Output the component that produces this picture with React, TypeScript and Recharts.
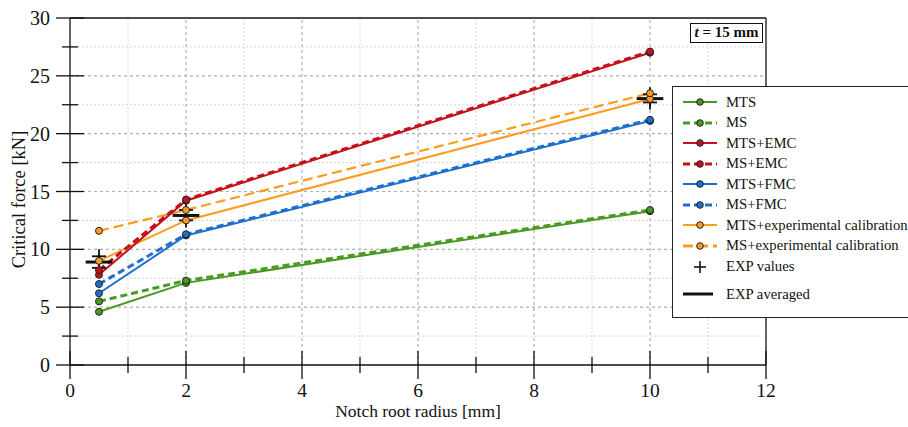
import React from 'react';
import { ComposedChart, Line, Scatter, XAxis, YAxis, ReferenceLine, Legend } from 'recharts';

const FONT = '"Liberation Serif", "Times New Roman", serif';

// notch root radii [mm]
const radii = [0.5, 2, 10];
// critical force [kN]
const mts = [4.6, 7.1, 13.3];
const ms = [5.5, 7.3, 13.4];
const mtsEmc = [7.8, 14.2, 27.0];
const msEmc = [8.2, 14.3, 27.1];
const mtsFmc = [6.2, 11.2, 21.1];
const msFmc = [7.0, 11.3, 21.2];
const mtsExp = [9.0, 12.5, 23.0];
const msExp = [11.6, 13.4, 23.5];
// experimental results
const expValues = [
  [9.4, 8.9, 8.4],
  [13.4, 12.9, 12.5],
  [23.4, 23.0, 22.7],
];
const expAveraged = [8.9, 12.93, 23.03];

const xTicks = [0, 1, 2, 3, 4, 5, 6, 7, 8, 9, 10, 11, 12];
const yTicks = [0, 2.5, 5, 7.5, 10, 12.5, 15, 17.5, 20, 22.5, 25, 27.5, 30];
const xGridMajor = [2, 4, 6, 8, 10];
const xGridMinor = [1, 3, 5, 7, 9, 11];
const yGridMajor = [5, 10, 15, 20, 25];
const yGridMinor = [2.5, 7.5, 12.5, 17.5, 22.5, 27.5];

const GREEN = '#4a9a22';
const RED = '#c4121c';
const BLUE = '#1f6fcf';
const ORANGE = '#ff9b1e';

type Series = { name: string; values: number[]; color: string; dash?: string; width: number };

const series: Series[] = [
  { name: 'MTS', values: mts, color: GREEN, width: 2 },
  { name: 'MS', values: ms, color: GREEN, dash: '7 4', width: 3 },
  { name: 'MTS+experimental calibration', values: mtsExp, color: ORANGE, width: 2 },
  { name: 'MS+experimental calibration', values: msExp, color: ORANGE, dash: '10 5', width: 2.2 },
  { name: 'MTS+FMC', values: mtsFmc, color: BLUE, width: 2 },
  { name: 'MS+FMC', values: msFmc, color: BLUE, dash: '7 4', width: 3 },
  { name: 'MTS+EMC', values: mtsEmc, color: RED, width: 2 },
  { name: 'MS+EMC', values: msEmc, color: RED, dash: '7 4', width: 3 },
];

const legendOrder = [
  'MTS', 'MS', 'MTS+EMC', 'MS+EMC', 'MTS+FMC', 'MS+FMC',
  'MTS+experimental calibration', 'MS+experimental calibration',
];

const toPoints = (vals: number[]) => radii.map((r, i) => ({ x: r, y: vals[i] }));
const expPoints = radii.flatMap((r, i) => expValues[i].map((v) => ({ x: r, y: v })));
const AVG_HALF = 0.23;

const XTick = (props: any) => {
  const { x, y, payload } = props;
  const v = payload.value;
  const major = v % 2 === 0;
  const h = major ? 14 : 8;
  return (
    <g>
      <line x1={x} x2={x} y1={y - h} y2={y + h} stroke="#111" strokeWidth={1.3} />
      {major && (
        <text x={x} y={y + 32} textAnchor="middle" fontSize={19.5} fontFamily={FONT} fill="#111">
          {v}
        </text>
      )}
    </g>
  );
};

const YTick = (props: any) => {
  const { x, y, payload } = props;
  const v = payload.value;
  const major = v % 5 === 0;
  const h = major ? 14 : 8;
  return (
    <g>
      <line x1={x - h} x2={x + h} y1={y} y2={y} stroke="#111" strokeWidth={1.3} />
      {major && (
        <text x={x - 20} y={y + 7} textAnchor="end" fontSize={20} fontFamily={FONT} fill="#111">
          {v}
        </text>
      )}
    </g>
  );
};

const DotShape = (color: string) => (p: any) => (
  <circle key={`${color}-${p.index}-${p.cx}`} cx={p.cx} cy={p.cy} r={3.5} fill={color} stroke="#222" strokeWidth={1} />
);

const PlusShape = (p: any) => (
  <g>
    <line x1={p.cx - 7} x2={p.cx + 7} y1={p.cy} y2={p.cy} stroke="#111" strokeWidth={1.8} />
    <line x1={p.cx} x2={p.cx} y1={p.cy - 7} y2={p.cy + 7} stroke="#111" strokeWidth={1.8} />
  </g>
);

const LegendBox = () => {
  const rowCenters = [15, 35.5, 56, 76.5, 97, 117.5, 138, 158.5, 179.5, 207];
  return (
    <div
      style={{
        position: 'relative',
        width: 245,
        height: 232,
        border: '1.5px solid #222',
        background: '#fff',
        boxSizing: 'border-box',
        fontFamily: FONT,
        fontSize: 14.7,
        color: '#111',
      }}
    >
      {legendOrder.map((name, i) => {
        const s = series.find((q) => q.name === name)!;
        return (
          <div key={name} style={{ position: 'absolute', left: 8, top: rowCenters[i] - 10, height: 20, display: 'flex', alignItems: 'center', whiteSpace: 'nowrap' }}>
            <svg width={40} height={20} style={{ display: 'block' }}>
              <line x1={2} x2={36} y1={10} y2={10} stroke={s.color} strokeWidth={s.dash ? 3 : 2} strokeDasharray={s.dash} />
              <circle cx={19} cy={10} r={3.3} fill={s.color} stroke="#222" strokeWidth={1} />
            </svg>
            <span style={{ marginLeft: 5 }}>{name}</span>
          </div>
        );
      })}
      <div style={{ position: 'absolute', left: 8, top: rowCenters[8] - 10, height: 20, display: 'flex', alignItems: 'center', whiteSpace: 'nowrap' }}>
        <svg width={40} height={20} style={{ display: 'block' }}>
          <line x1={13} x2={25} y1={10} y2={10} stroke="#111" strokeWidth={1.6} />
          <line x1={19} x2={19} y1={4} y2={16} stroke="#111" strokeWidth={1.6} />
        </svg>
        <span style={{ marginLeft: 5 }}>EXP values</span>
      </div>
      <div style={{ position: 'absolute', left: 8, top: rowCenters[9] - 10, height: 20, display: 'flex', alignItems: 'center', whiteSpace: 'nowrap' }}>
        <svg width={40} height={20} style={{ display: 'block' }}>
          <line x1={2} x2={32} y1={10} y2={10} stroke="#111" strokeWidth={3} />
        </svg>
        <span style={{ marginLeft: 5 }}>EXP averaged</span>
      </div>
    </div>
  );
};

export default function App() {
  return (
    <div style={{ position: 'absolute', left: 0, top: 0, width: 908, height: 427, background: '#fff', overflow: 'hidden' }}>
      <ComposedChart width={908} height={427} margin={{ top: 18, right: 142, bottom: 0, left: 0 }}>
        <XAxis
          type="number"
          dataKey="x"
          domain={[0, 12]}
          ticks={xTicks}
          interval={0}
          tickSize={0}
          tickMargin={0}
          tickLine={false}
          tick={<XTick />}
          axisLine={{ stroke: '#111', strokeWidth: 1.3 }}
          height={62}
          allowDataOverflow
          label={{
            content: (p: any) => {
              const vb = p.viewBox || { x: 70, y: 365, width: 696 };
              return (
                <text x={vb.x + vb.width / 2} y={vb.y + 52} textAnchor="middle" fontSize={17.5} fontFamily={FONT} fill="#111">
                  Notch root radius [mm]
                </text>
              );
            },
          }}
        />
        <YAxis
          type="number"
          domain={[0, 30]}
          ticks={yTicks}
          interval={0}
          tickSize={0}
          tickMargin={0}
          tickLine={false}
          tick={<YTick />}
          axisLine={{ stroke: '#111', strokeWidth: 1.3 }}
          width={70}
          allowDataOverflow
          label={{
            content: (p: any) => {
              const vb = p.viewBox || { x: 0, y: 18, height: 347 };
              const cx = 25;
              const cy = vb.y + vb.height / 2 + 8;
              return (
                <text x={cx} y={cy} transform={`rotate(-90 ${cx} ${cy})`} textAnchor="middle" fontSize={18.5} fontFamily={FONT} fill="#111">
                  Critical force [kN]
                </text>
              );
            },
          }}
        />
        {yGridMinor.map((v) => (
          <ReferenceLine key={`ym${v}`} y={v} stroke="#d6d6d6" strokeDasharray="2 2" strokeWidth={1} />
        ))}
        {xGridMinor.map((v) => (
          <ReferenceLine key={`xm${v}`} x={v} stroke="#d6d6d6" strokeDasharray="2 2" strokeWidth={1} />
        ))}
        {yGridMajor.map((v) => (
          <ReferenceLine key={`yM${v}`} y={v} stroke="#b0b0b0" strokeDasharray="3 3" strokeWidth={1.2} />
        ))}
        {xGridMajor.map((v) => (
          <ReferenceLine key={`xM${v}`} x={v} stroke="#b0b0b0" strokeDasharray="3 3" strokeWidth={1.2} />
        ))}
        <ReferenceLine y={30} stroke="#111" strokeWidth={1.3} ifOverflow="visible" />
        <ReferenceLine x={12} stroke="#111" strokeWidth={1.3} ifOverflow="visible" />

        {series.map((s) => (
          <Line
            key={s.name}
            name={s.name}
            data={toPoints(s.values)}
            dataKey="y"
            type="linear"
            stroke={s.color}
            strokeWidth={s.width}
            strokeDasharray={s.dash}
            dot={DotShape(s.color)}
            activeDot={false}
            isAnimationActive={false}
            legendType="none"
          />
        ))}

        {radii.map((r, i) => (
          <ReferenceLine
            key={`avg${r}`}
            segment={[{ x: r - AVG_HALF, y: expAveraged[i] }, { x: r + AVG_HALF, y: expAveraged[i] }]}
            stroke="#111"
            strokeWidth={3}
            ifOverflow="visible"
          />
        ))}
        <Scatter name="EXP values" data={expPoints} dataKey="y" shape={PlusShape} isAnimationActive={false} legendType="none" />

        <Legend
          layout="vertical"
          align="center"
          verticalAlign="middle"
          wrapperStyle={{ left: 672, top: 86, width: 245, height: 232 }}
          content={() => <LegendBox />}
        />
      </ComposedChart>
      <div
        style={{
          position: 'absolute',
          left: 690,
          top: 23,
          width: 73,
          height: 20,
          border: '1.5px solid #111',
          boxSizing: 'border-box',
          background: '#fff',
          fontFamily: FONT,
          fontWeight: 'bold',
          fontSize: 15,
          lineHeight: '17px',
          textAlign: 'center',
          color: '#111',
          whiteSpace: 'nowrap',
        }}
      >
        <i>t</i> = 15 mm
      </div>
    </div>
  );
}
